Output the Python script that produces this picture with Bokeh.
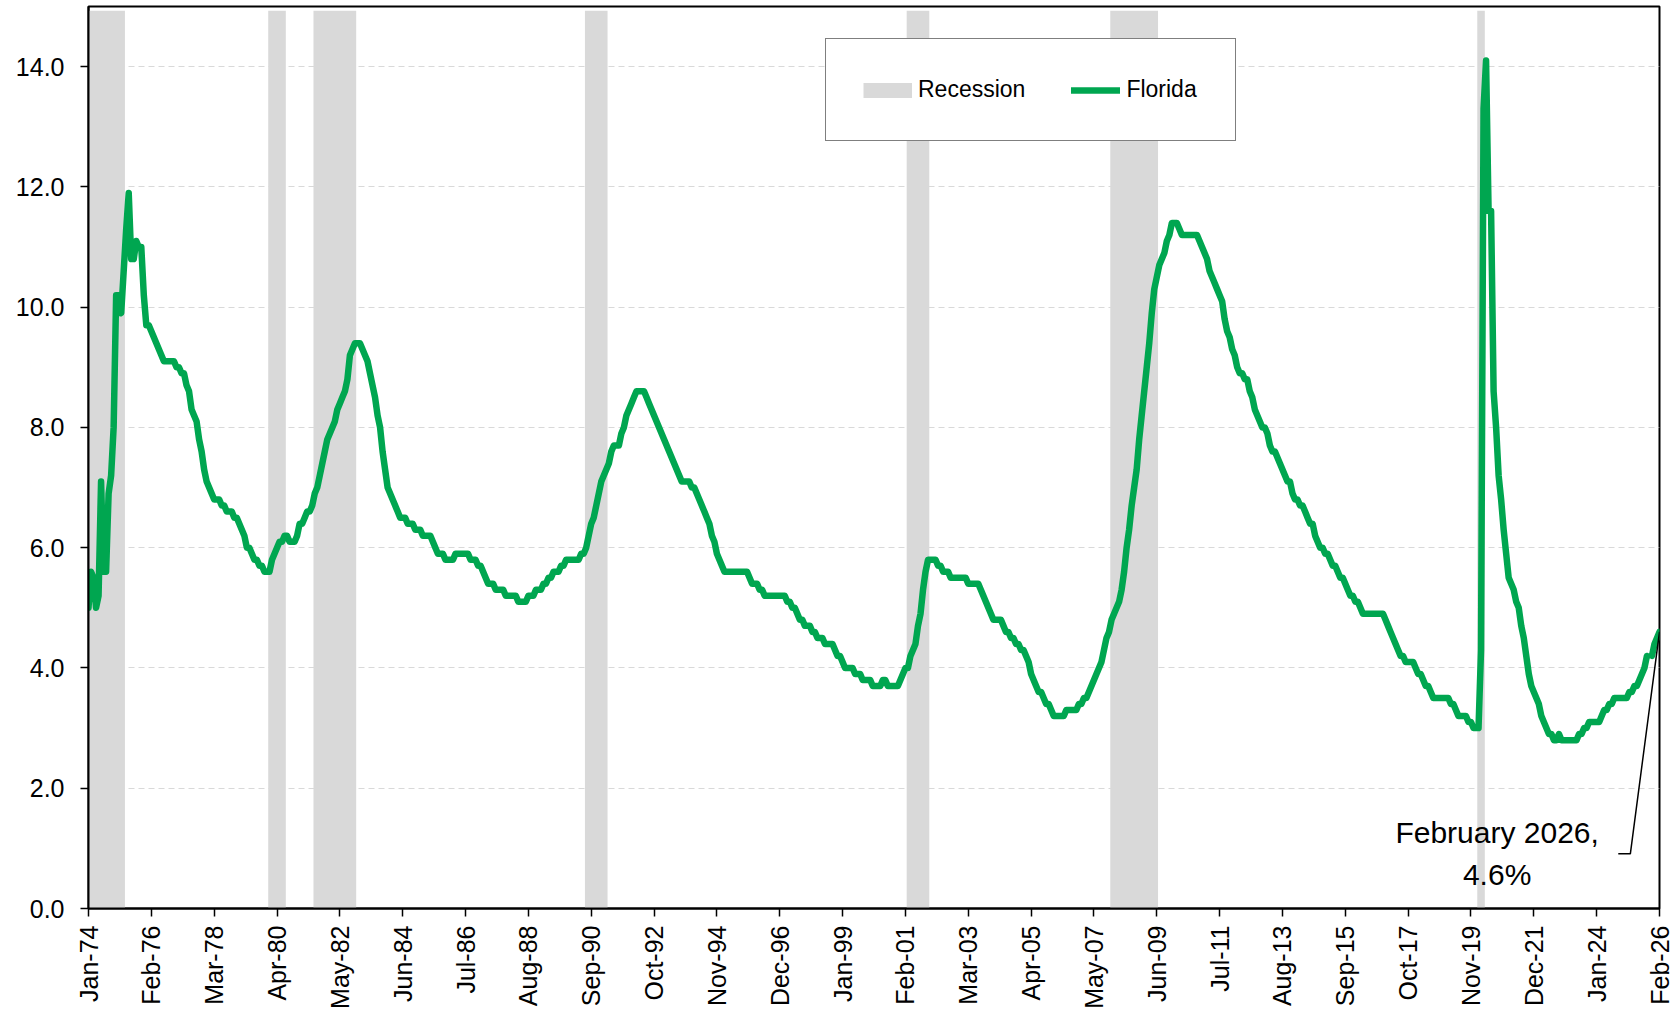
import math
import numpy as np
from bokeh.plotting import figure
from bokeh.models import Range1d, FixedTicker, PrintfTickFormatter, Legend, LegendItem
from bokeh.core.properties import value
from bokeh.embed import file_html
from bokeh.resources import INLINE

# ---------------- data ----------------
start_year = 1974
florida = [
    # 1974
    5.0, 5.6, 5.5, 5.0, 5.2, 7.1, 5.6, 5.6, 6.9, 7.2, 8.0, 10.2,
    # 1975
    10.2, 9.9, 10.6, 11.3, 11.9, 10.8, 10.8, 11.1, 11.0, 11.0, 10.2, 9.7,
    # 1976
    9.7, 9.6, 9.5, 9.4, 9.3, 9.2, 9.1, 9.1, 9.1, 9.1, 9.1, 9.0,
    # 1977
    9.0, 8.9, 8.9, 8.7, 8.6, 8.3, 8.2, 8.1, 7.8, 7.6, 7.3, 7.1,
    # 1978
    7.0, 6.9, 6.8, 6.8, 6.8, 6.7, 6.7, 6.6, 6.6, 6.6, 6.5, 6.5,
    # 1979
    6.4, 6.3, 6.2, 6.0, 6.0, 5.9, 5.8, 5.8, 5.7, 5.7, 5.6, 5.6,
    # 1980
    5.6, 5.8, 5.9, 6.0, 6.1, 6.1, 6.2, 6.2, 6.1, 6.1, 6.1, 6.2,
    # 1981
    6.4, 6.4, 6.5, 6.6, 6.6, 6.7, 6.9, 7.0, 7.2, 7.4, 7.6, 7.8,
    # 1982
    7.9, 8.0, 8.1, 8.3, 8.4, 8.5, 8.6, 8.8, 9.2, 9.3, 9.4, 9.4,
    # 1983
    9.4, 9.3, 9.2, 9.1, 8.9, 8.7, 8.5, 8.2, 8.0, 7.6, 7.3, 7.0,
    # 1984
    6.9, 6.8, 6.7, 6.6, 6.5, 6.5, 6.5, 6.4, 6.4, 6.4, 6.3, 6.3,
    # 1985
    6.3, 6.2, 6.2, 6.2, 6.2, 6.1, 6.0, 5.9, 5.9, 5.9, 5.8, 5.8,
    # 1986
    5.8, 5.8, 5.9, 5.9, 5.9, 5.9, 5.9, 5.9, 5.8, 5.8, 5.8, 5.7,
    # 1987
    5.7, 5.6, 5.5, 5.4, 5.4, 5.4, 5.3, 5.3, 5.3, 5.3, 5.2, 5.2,
    # 1988
    5.2, 5.2, 5.2, 5.1, 5.1, 5.1, 5.1, 5.2, 5.2, 5.2, 5.3, 5.3,
    # 1989
    5.3, 5.4, 5.4, 5.5, 5.5, 5.6, 5.6, 5.6, 5.7, 5.7, 5.8, 5.8,
    # 1990
    5.8, 5.8, 5.8, 5.8, 5.9, 5.9, 6.0, 6.2, 6.4, 6.5, 6.7, 6.9,
    # 1991
    7.1, 7.2, 7.3, 7.4, 7.6, 7.7, 7.7, 7.7, 7.9, 8.0, 8.2, 8.3,
    # 1992
    8.4, 8.5, 8.6, 8.6, 8.6, 8.6, 8.5, 8.4, 8.3, 8.2, 8.1, 8.0,
    # 1993
    7.9, 7.8, 7.7, 7.6, 7.5, 7.4, 7.3, 7.2, 7.1, 7.1, 7.1, 7.1,
    # 1994
    7.0, 7.0, 6.9, 6.8, 6.7, 6.6, 6.5, 6.4, 6.2, 6.1, 5.9, 5.8,
    # 1995
    5.7, 5.6, 5.6, 5.6, 5.6, 5.6, 5.6, 5.6, 5.6, 5.6, 5.6, 5.5,
    # 1996
    5.4, 5.4, 5.4, 5.3, 5.3, 5.2, 5.2, 5.2, 5.2, 5.2, 5.2, 5.2,
    # 1997
    5.2, 5.2, 5.1, 5.1, 5.0, 5.0, 4.9, 4.8, 4.8, 4.7, 4.7, 4.7,
    # 1998
    4.6, 4.6, 4.5, 4.5, 4.5, 4.4, 4.4, 4.4, 4.4, 4.3, 4.2, 4.2,
    # 1999
    4.1, 4.0, 4.0, 4.0, 4.0, 3.9, 3.9, 3.9, 3.8, 3.8, 3.8, 3.8,
    # 2000
    3.7, 3.7, 3.7, 3.7, 3.8, 3.8, 3.7, 3.7, 3.7, 3.7, 3.7, 3.8,
    # 2001
    3.9, 4.0, 4.0, 4.2, 4.3, 4.4, 4.7, 4.9, 5.3, 5.6, 5.8, 5.8,
    # 2002
    5.8, 5.8, 5.7, 5.7, 5.6, 5.6, 5.6, 5.5, 5.5, 5.5, 5.5, 5.5,
    # 2003
    5.5, 5.5, 5.4, 5.4, 5.4, 5.4, 5.4, 5.3, 5.2, 5.1, 5.0, 4.9,
    # 2004
    4.8, 4.8, 4.8, 4.8, 4.7, 4.6, 4.6, 4.5, 4.5, 4.4, 4.4, 4.3,
    # 2005
    4.3, 4.2, 4.1, 3.9, 3.8, 3.7, 3.6, 3.6, 3.5, 3.4, 3.4, 3.3,
    # 2006
    3.2, 3.2, 3.2, 3.2, 3.2, 3.3, 3.3, 3.3, 3.3, 3.3, 3.4, 3.4,
    # 2007
    3.5, 3.5, 3.6, 3.7, 3.8, 3.9, 4.0, 4.1, 4.3, 4.5, 4.6, 4.8,
    # 2008
    4.9, 5.0, 5.1, 5.3, 5.6, 6.0, 6.3, 6.7, 7.0, 7.3, 7.8, 8.2,
    # 2009
    8.6, 9.0, 9.4, 9.9, 10.3, 10.5, 10.7, 10.8, 10.9, 11.1, 11.2, 11.4,
    # 2010
    11.4, 11.4, 11.3, 11.2, 11.2, 11.2, 11.2, 11.2, 11.2, 11.2, 11.1, 11.0,
    # 2011
    10.9, 10.8, 10.6, 10.5, 10.4, 10.3, 10.2, 10.1, 9.8, 9.6, 9.5, 9.3,
    # 2012
    9.2, 9.0, 8.9, 8.9, 8.8, 8.8, 8.6, 8.5, 8.3, 8.2, 8.1, 8.0,
    # 2013
    8.0, 7.9, 7.7, 7.6, 7.6, 7.5, 7.4, 7.3, 7.2, 7.1, 7.1, 6.9,
    # 2014
    6.8, 6.8, 6.7, 6.7, 6.6, 6.5, 6.4, 6.4, 6.2, 6.1, 6.0, 6.0,
    # 2015
    5.9, 5.9, 5.8, 5.7, 5.7, 5.6, 5.5, 5.5, 5.4, 5.3, 5.2, 5.2,
    # 2016
    5.1, 5.1, 5.0, 4.9, 4.9, 4.9, 4.9, 4.9, 4.9, 4.9, 4.9, 4.9,
    # 2017
    4.8, 4.7, 4.6, 4.5, 4.4, 4.3, 4.2, 4.2, 4.1, 4.1, 4.1, 4.1,
    # 2018
    4.0, 3.9, 3.9, 3.8, 3.7, 3.7, 3.6, 3.5, 3.5, 3.5, 3.5, 3.5,
    # 2019
    3.5, 3.5, 3.4, 3.4, 3.3, 3.2, 3.2, 3.2, 3.2, 3.1, 3.1, 3.0,
    # 2020
    3.0, 3.0, 4.3, 13.3, 14.1, 11.6, 11.6, 8.6, 8.0, 7.2, 6.8, 6.3,
    # 2021
    5.9, 5.5, 5.4, 5.3, 5.1, 5.0, 4.7, 4.5, 4.2, 3.9, 3.7, 3.6,
    # 2022
    3.5, 3.4, 3.2, 3.1, 3.0, 2.9, 2.9, 2.8, 2.8, 2.9, 2.8, 2.8,
    # 2023
    2.8, 2.8, 2.8, 2.8, 2.8, 2.9, 2.9, 3.0, 3.0, 3.1, 3.1, 3.1,
    # 2024
    3.1, 3.1, 3.2, 3.3, 3.3, 3.4, 3.4, 3.5, 3.5, 3.5, 3.5, 3.5,
    # 2025 (October not published)
    3.5, 3.6, 3.6, 3.7, 3.7, 3.8, 3.9, 4.0, 4.2, float("nan"), 4.2, 4.4,
    # 2026
    4.5, 4.6,
]

recession_start = ["1974-01", "1980-01", "1981-07", "1990-07", "2001-03", "2007-12", "2020-02"]
recession_end = ["1975-03", "1980-07", "1982-11", "1991-03", "2001-11", "2009-06", "2020-04"]

tick_labels = ["Jan-74", "Feb-76", "Mar-78", "Apr-80", "May-82", "Jun-84", "Jul-86",
               "Aug-88", "Sep-90", "Oct-92", "Nov-94", "Dec-96", "Jan-99", "Feb-01",
               "Mar-03", "Apr-05", "May-07", "Jun-09", "Jul-11", "Aug-13", "Sep-15",
               "Oct-17", "Nov-19", "Dec-21", "Jan-24", "Feb-26"]
tick_step_months = 25
y_ticks = [0, 2, 4, 6, 8, 10, 12, 14]
month_names = ["January", "February", "March", "April", "May", "June", "July",
               "August", "September", "October", "November", "December"]

# ---------------- derived ----------------
n = len(florida)
months = list(range(n))


def month_index(s):
    y, m = map(int, s.split("-"))
    return (y - start_year) * 12 + (m - 1)


rec_left = [month_index(s) - 0.5 for s in recession_start]
rec_right = [month_index(s) + 0.5 for s in recession_end]

FONT = "Liberation Sans"
GREEN = "#00A650"
GREY = "#D9D9D9"

p = figure(width=1677, height=1011,
           x_range=Range1d(0, n - 1), y_range=Range1d(0, 15),
           output_backend="svg", toolbar_location=None,
           min_border_left=88, min_border_right=18, min_border_top=6, min_border_bottom=99)
p.background_fill_color = "white"
p.border_fill_color = "white"
p.outline_line_color = "black"
p.outline_line_width = 2

rec_r = p.quad(left=rec_left, right=rec_right, bottom=0, top=14.93,
               fill_color=GREY, line_color=None)
line_r = p.line(months, florida, line_color=GREEN, line_width=6.5,
                line_join="round", line_cap="round")
# legend key for the recession shading (NaN points: nothing is drawn in the plot)
rec_key = p.line(x=[np.nan, np.nan], y=[np.nan, np.nan], line_color=GREY,
                 line_width=15, line_cap="butt")

# annotation for the last value
last = n - 1
last_year = start_year + last // 12
last_month = month_names[last % 12]
ann_text = f"{last_month} {last_year},\n{florida[-1]:.1f}%"
p.text(x=[last - 64.6], y=[0.92], text=[ann_text],
       text_font=value(FONT), text_font_size="30px", text_color="black",
       text_align="center", text_baseline="middle", text_line_height=1.27)
p.line(x=[last - 16.4, last - 11.6, last], y=[0.91, 0.91, florida[-1]],
       line_color="black", line_width=1.5)

# axes
p.xgrid.visible = False
p.ygrid.grid_line_color = GREY
p.ygrid.grid_line_dash = "6 4"
p.ygrid.grid_line_width = 1
p.ygrid.ticker = FixedTicker(ticks=y_ticks[1:])

xa = p.xaxis[0]
xa.ticker = FixedTicker(ticks=[i * tick_step_months for i in range(len(tick_labels))])
xa.major_label_overrides = {i * tick_step_months: lab for i, lab in enumerate(tick_labels)}
xa.major_label_orientation = math.pi / 2
xa.major_label_text_font = FONT
xa.major_label_text_font_size = "25px"
xa.major_label_text_color = "black"
xa.major_label_standoff = 9
xa.major_tick_in = 0
xa.major_tick_out = 8
xa.minor_tick_line_color = None
xa.axis_line_color = "black"
xa.axis_line_width = 2
xa.major_tick_line_color = "black"
xa.major_tick_line_width = 1.5

ya = p.yaxis[0]
ya.ticker = FixedTicker(ticks=y_ticks)
ya.formatter = PrintfTickFormatter(format="%.1f")
ya.major_label_text_font = FONT
ya.major_label_text_font_size = "25px"
ya.major_label_text_color = "black"
ya.major_label_standoff = 16
ya.major_tick_in = 0
ya.major_tick_out = 8
ya.minor_tick_line_color = None
ya.axis_line_color = "black"
ya.axis_line_width = 2
ya.major_tick_line_color = "black"
ya.major_tick_line_width = 1.5

legend = Legend(items=[LegendItem(label="Recession", renderers=[rec_key]),
                       LegendItem(label="Florida", renderers=[line_r])],
                orientation="horizontal", location=(737, 767))
legend.label_text_font = FONT
legend.label_text_font_size = "23px"
legend.label_text_color = "black"
legend.glyph_width = 49
legend.glyph_height = 16
legend.label_standoff = 6
legend.label_width = 72
legend.spacing = 46
legend.padding = 37
legend.margin = 0
legend.border_line_color = "black"
legend.border_line_width = 1
legend.background_fill_color = "white"
legend.background_fill_alpha = 1
p.add_layout(legend, "center")

open("out.html", "w").write(file_html(p, INLINE))
